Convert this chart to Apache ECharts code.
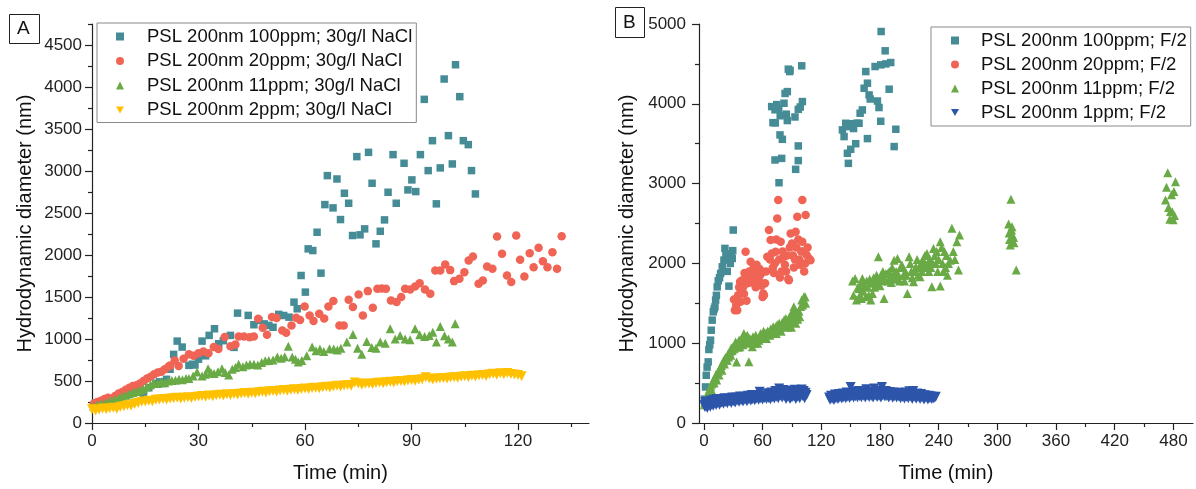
<!DOCTYPE html>
<html lang="en">
<head>
<meta charset="UTF-8">
<title>PSL 200nm - hydrodynamic diameter</title>
<script src="https://cdn.jsdelivr.net/npm/echarts@6.0.0/dist/echarts.min.js"></script>
<style>
    html, body { margin: 0; padding: 0; background: #fff; }
    #main { width: 1196px; height: 489px; }
</style>
</head>
<body>
<div id="main"></div>
<script type="text/javascript">
// ---- panel A : 30 g/l NaCl ----  [time (min), diameter (nm)]
var a100 = [[1,240],[3,255],[5,275],[7,300],[9,330],[11,360],[13,385],[14.5,350],[16,420],[18,470],[19,490],[20,470],[21,520],[22,640],
    [23,817],[24,975],[25.4,904],[27.3,686],[28.3,700],[29,690],[30,760],[31,975],[32,800],[33,1043],[34.5,1122],[35.7,944],[37,980],
    [39,1043],[40,900],[41,1308],[44,1281],[45.6,1170],[47,1220],[48.5,1180],[49.8,1162],[51,1140],[52.6,1293],[54,1280],[55.5,1260],
    [56.9,1439],[57.8,1360],[58.9,1756],[60.1,1558],[60.9,2073],[62.2,2053],[63.4,2271],[64.5,1784],[65.6,2600],[66.3,2945],[67.9,2561],
    [69,2905],[70,2422],[71.1,2735],[72.3,2616],[73.4,2232],[74.6,3171],[75.5,2240],[76.8,2311],[77.9,3222],[78.9,2854],[80,2133],
    [81.2,2283],[82.4,2418],[83.4,2747],[84.8,3195],[85.7,2616],[87.9,3092],[89,2775],[90.1,2894],[91.2,2755],[92.5,3195],[93.6,3853],
    [94.7,3005],[95.9,3361],[97,2609],[98.1,3037],[99.2,4095],[100.4,3421],[101.5,3084],[102.4,4265],[103.6,3885],[104.6,3361],
    [106,3314],[106.9,3005],[108,2727]];
var a20 = [[0.5,230],[1.5,250],[2.5,265],[3.5,285],[4.5,300],[5.5,290],[6.5,320],[7.5,350],[8.5,370],[9.5,395],[10.5,420],[11.5,440],
    [12.5,450],[13.5,470],[14.5,500],[15.5,530],[16.5,550],[17.5,580],[18.5,600],[19.5,610],[20.5,640],[21.5,670],[22,686],[23.3,745],
    [24.4,680],[25.8,765],[27.3,817],[28.6,800],[30,830],[31.4,850],[32.8,830],[34.3,904],[35.6,880],[37.4,1023],[39,913],[40.4,935],
    [41.3,1031],[42.8,1030],[44.4,1020],[45.6,1030],[46.8,1241],[48.1,1134],[49.3,1051],[50.7,1261],[52,1250],[53.6,1102],[54.7,1075],
    [56.2,1162],[57.5,1253],[58.6,1225],[59.9,1388],[61.3,1281],[62.4,1213],[64,1300],[65.4,1245],[66.6,1388],[68,1451],[69.7,1162],
    [70.9,1162],[72.3,1467],[73.5,1380],[75.1,1530],[76.3,1281],[77.7,1570],[79.1,1372],[80.4,1598],[81.6,1600],[82.8,1598],[84.2,1459],
    [85.8,1440],[87.1,1500],[88.2,1598],[89.6,1590],[91,1625],[92.3,1665],[93.8,1590],[95.3,1539],[96.7,1816],[98.1,1816],[99.5,1887],
    [100.9,1820],[102,1689],[103.5,1717],[104.9,1796],[106.1,1935],[107.3,1982],[108.9,1657],[110.1,1697],[111.3,1863],[112.8,1836],
    [114.1,2220],[115.5,2014],[116.9,1756],[118.1,1678],[119.5,2232],[120.6,1943],[121.8,1745],[123.3,2022],[124.4,1855],[125.8,2085],
    [127,1927],[128.3,1855],[129.7,2033],[131,1836],[132.3,2224]];
var a11 = [[0.5,200],[1.5,215],[2.5,225],[3.5,235],[4.5,250],[5.5,265],[6.5,280],[7.5,295],[8.5,315],[9.5,330],[10.5,345],[11.5,360],
    [12.5,375],[13.5,390],[14.5,405],[15.5,430],[16.5,455],[17.4,475],[18.5,470],[19.5,490],[20.5,480],[21.5,500],[22.5,505],[23.5,508],
    [24.5,520],[25.5,515],[26.5,530],[27.3,530],[28.5,560],[29.6,606],[31,560],[32,580],[32.7,646],[33.5,600],[34.4,590],[35.5,610],
    [36.6,646],[37.5,600],[38.5,570],[39.5,640],[40.4,660],[41.3,698],[42.5,670],[43.5,690],[44.5,700],[45.6,700],[46.7,690],[47.8,720],
    [48.8,740],[49.8,745],[51,750],[52.2,785],[53.3,770],[54.3,790],[55.3,915],[56.4,785],[57.3,760],[58.1,725],[59.1,745],[60.5,800],
    [62,904],[63.1,860],[64.2,880],[65.3,850],[66.9,885],[68.1,880],[69.1,870],[70.1,890],[71.8,963],[73.5,1055],[74.8,890],[76,817],
    [77.4,970],[78.8,900],[80,890],[81.2,963],[82.6,950],[84,1122],[85.4,1000],[86.8,1043],[88.2,1000],[89.6,990],[91,1122],[92.3,1050],
    [93.7,1030],[95,1043],[96,1080],[97,963],[98.1,1150],[99.3,1040],[100.4,1000],[101.5,963],[102.3,1182]];
var a2 = [[0,165],[1,150],[2,160],[3,172],[4,163],[5,176],[6,182],[7,170],[8,192],[9,198],[10,212],[11,204],[12,226],[13,238],[14,252],
    [15,256],[16,266],[17,259],[18,276],[19,281],[20,287],[21,279],[22,291],[23,296],[24,302],[25,293],[26,301],[27,307],[28,298],
    [29,311],[30,316],[31,322],[32,313],[33,326],[34,319],[35,331],[36,337],[37,328],[38,342],[39,334],[40,346],[41,339],[42,352],
    [43,356],[44,348],[45,361],[46,354],[47,367],[48,372],[49,363],[50,377],[51,382],[52,374],[53,386],[54,392],[55,383],[56,397],
    [57,401],[58,393],[59,406],[60,411],[61,404],[62,417],[63,421],[64,413],[65,427],[66,431],[67,424],[68,436],[69,442],[70,434],
    [71,447],[72,451],[73,444],[74,481],[75,470],[76,454],[77,466],[78,471],[79,463],[80,476],[81,482],[82,474],[83,486],[84,491],
    [85,483],[86,496],[87,501],[88,494],[89,506],[90,511],[91,503],[92,516],[93,521],[94,546],[95,531],[96,519],[97,526],[98,532],
    [99,536],[100,529],[101,541],[102,546],[103,538],[104,551],[105,556],[106,548],[107,562],[108,554],[109,566],[110,571],[111,559],
    [112,581],[113,586],[114,574],[115,592],[116,579],[117,596],[118,584],[119,578],[120,571],[121,558]];

// ---- panel B : F/2 medium ----
var b100 = [[0.5,300],[1.7,452],[2.4,598],[3.3,700],[4.4,766],[5.1,921],[6,980],[6.8,1038],[7.5,1163],[8.5,1289],[9.6,1393],[10.5,1430],
    [11.3,1456],[12,1540],[12.8,1600],[13.6,1706],[14.7,1782],[16,1820],[17.1,1874],[18.8,1957],[20.5,2041],[21.5,2188],[22.5,2100],
    [23.9,1900],[24.5,2060],[25.6,1715],[27,2000],[28,2120],[29,2062],[29.5,2160],[30,2418],
    [76.8,3011],[72.7,3296],[79.5,3316],[70.6,3764],[73,3760],[77.8,3610],[80.2,3555],[69.3,3965],[72.7,3925],[76.5,3940],[78,3850],
    [81.9,4007],[84.3,3870],[85.3,3790],[85.3,4153],[86.3,4434],[87.7,4404],[100,4476],[100.7,4028],[98.5,3960],[96.5,3930],[93.1,3835],
    [96.5,3472],[96.5,3288],[93.8,3179],[74.5,3990],[83,4130],[88,4420],
    [147.7,3254],[146.7,3380],[150.1,3430],[155.2,3500],[143.3,3589],[141.6,3673],[145,3756],[147.7,3714],[151.2,3750],[156.3,3757],
    [153,3690],[158.6,3756],[159.7,3882],[162,3923],[163.8,4195],[165.5,4404],[167.2,4258],[168.9,4111],[167.2,3564],[170,4060],
    [177.4,4035],[179,3953],[180.8,3781],[175,4467],[180.8,4488],[186,4500],[191,4517],[181.2,4906],[185.3,4664],[189.4,4183],
    [196.2,3681],[194.5,3464]];
var b20 = [[30.7,1548],[31.7,1414],[33,1480],[34.1,1414],[34.1,1540],[35,1600],[36,1700],[37,1769],[37.5,1520],[38.5,1650],[39.2,1790],
    [40,1700],[41,1620],[41.5,1880],[42.6,2146],[43.6,1533],[44.5,1750],[45.5,1830],[46.5,1900],[47.8,2020],[48.5,1760],[49.5,1870],
    [50.2,1858],[51,1950],[52,1800],[53,1700],[53.9,1983],[55,1880],[56.3,1790],[57,1930],[58,1860],[59,1720],[60,1580],[60.7,1623],
    [61.4,1602],[62.5,1750],[63.5,1900],[64.8,2083],[66.5,2418],[67.5,2050],[68.2,2293],[69.3,2124],[70.5,1950],[71.5,1880],[72.5,2000],
    [73.3,2146],[74,2300],[75,2564],[76,2794],[77,2050],[77.8,1823],[78.5,2270],[79.5,1900],[80.5,2150],[81.9,2083],[82.9,1984],
    [84,1900],[85,2100],[86.3,1803],[86.9,1790],[87.8,2200],[88.7,2376],[90,2250],[91,2100],[92,1950],[93,2050],[93.8,2397],[94.5,2200],
    [95.5,2585],[96.5,2300],[97.5,2050],[98.3,1983],[99.5,2150],[100.6,2794],[100.6,2270],[101.5,2150],[102.5,1900],[103.5,2000],
    [104,2606],[105.1,2104],[106,2200],[107.5,2062],[109,2040]];
var b11 = [[0.5,230],[1,260],[1.7,285],[2.5,310],[3,340],[4,370],[5,400],[5.5,380],[6,430],[7,460],[7.5,420],[8,490],[9,520],[10,540],
    [10.5,500],[11,560],[11.9,577],[12.5,610],[13,540],[14,620],[15,650],[15.5,600],[16,680],[17,700],[18,720],[18.5,660],[19,750],
    [20,780],[21,740],[22,820],[23,790],[23.9,787],[24.5,860],[25.3,828],[26,880],[27,900],[27.5,850],[28,940],[29,910],[30,960],
    [31,930],[32,980],[32.4,1016],[33.4,765],[34,1000],[35,950],[36,1040],[36.8,954],[38,1000],[39,1060],[40,980],[40.9,1122],[42,1010],
    [43,1080],[43.6,1038],[44.4,1100],[45,1000],[46,766],[47,1060],[48,1020],[49.5,954],[50.2,1080],[51,1040],[52,1000],[53,1100],
    [54,1060],[55,1000],[56.3,1038],[57.3,1079],[58,1120],[59,1060],[60,1100],[61,1150],[62,1080],[63,1120],[64,1060],[65,1150],
    [66.5,1142],[67.5,1100],[68.5,1180],[69.5,1130],[70.9,1205],[72,1160],[73.3,1205],[74,1120],[75,1230],[76,1180],[77,1250],[78,1200],
    [79,1150],[80,1260],[81,1220],[82,1290],[83.6,1310],[84.6,1289],[85.5,1200],[86.5,1250],[87.5,1330],[88.5,1270],[89.5,1200],
    [90.5,1350],[91.4,1414],[92,1456],[93,1300],[94,1250],[95,1380],[96,1300],[97.2,1400],[98,1330],[99,1460],[100,1540],[101,1480],
    [102.3,1581],[103.4,1582],[104,1500],
    [152,1780],[153,1600],[154.6,1812],[156,1540],[157.5,1700],[158.6,1687],[159.5,1600],[160.5,1750],[161,1560],[162,1812],[163,1650],
    [164,1720],[165.5,1582],[166.5,1780],[167.5,1700],[168.5,1600],[169.5,1800],[170.6,1540],[171.5,1750],[172.3,1624],[173.5,1820],
    [174.5,1700],[175.5,1780],[176.5,1850],[177.5,1750],[178.4,2083],[179,1800],[180,1720],[181,1850],[182,1780],[183,1900],[184.2,1560],
    [185,1800],[186,1870],[187.6,1875],[188.5,1780],[189.5,1900],[190.5,1820],[191.5,1760],[192.5,1950],[193.5,1850],[194.4,2041],
    [195.5,1800],[196.5,1900],[197.9,2062],[199,1850],[200,1780],[201,1950],[202.4,1979],[203,1957],[204,1850],[205,1780],[206,1900],
    [207,1850],[208,1623],[209.8,2083],[210.9,2000],[212,1900],[213,1820],[214.3,1769],[215.5,1900],[216.7,1957],[218,2050],[219,1850],
    [220,1950],[221,1832],[222,2000],[223,1900],[224,2050],[225,1950],[226,2100],[227,1980],[228,2125],[229,2000],[230,1900],[231,2050],
    [232,1950],[233,1706],[234,2000],[234.7,2188],[236,2100],[237,2000],[238,2150],[239,1900],[240,2050],[241.6,2271],[241.6,1716],
    [243,2200],[244,2000],[245,1900],[246,2150],[247,1950],[248,2100],[249,1850],[250,2000],[251.8,2041],[253.5,2439],[255,2150],
    [256.5,2050],[258.6,2271],[260.3,1916],[261.3,2355],
    [311.5,2493],[312,2380],[312.5,2300],[313.2,2230],[313.9,2803],[314.5,2420],[315,2460],[315.5,2350],[316.6,2326],[317,2260],[319.3,1916],
    [471.9,2794],[472.9,2953],[474.2,3137],[475,2700],[476.3,2552],[477,2650],[478,2860],[478.7,2648],[479.7,2548],[480.5,2900],
    [482.1,3024],[481,2600]];
var b1 = [[0.5,230],[1,200],[1.5,262],[2,214],[3,243],[3.5,188],[4,268],[5,226],[6,252],[6.5,204],[7,281],[8,233],[9,258],[9.5,217],
    [10,291],[11,246],[12,268],[12.5,224],[13,302],[14,251],[15,276],[16,229],[17,299],[18,257],[19,284],[20,242],[21,311],[22,263],
    [23,292],[24,249],[25,308],[26,272],[27,296],[28,252],[29,321],[30,274],[31,303],[32,258],[33,318],[34,282],[35,299],[36,266],
    [37,332],[38,284],[39,307],[40,268],[41,328],[42,292],[43,309],[44,272],[45,341],[46,294],[47,322],[48,281],[49,352],[50,298],
    [51,326],[52,284],[53,347],[54,306],[55,328],[56,291],[57,392],[58,309],[59,337],[60,296],[61,348],[62,312],[63,339],[64,301],
    [65,372],[66,314],[67,346],[68,299],[69,382],[70,322],[71,349],[72,306],[73,402],[74,328],[75,362],[76,311],[77,432],[78,341],
    [79,368],[80,318],[81,412],[82,336],[83,358],[84,302],[85,383],[86,329],[87,408],[88,301],[89,352],[90,318],[91,392],[92,331],
    [93,418],[94,302],[95,362],[96,329],[97,412],[98,309],[99,371],[100,421],[101,338],[102,402],[103,311],[104,379],[105,352],
    [128,318],[129,291],[130,342],[131,304],[132,331],[133,289],[134,356],[135,309],[136,341],[137,301],[138,362],[139,318],[140,346],
    [141,306],[142,371],[143,324],[144,352],[145,309],[146,381],[147,331],[148,354],[149,312],[150,452],[151,339],[152,372],[153,321],
    [154,392],[155,336],[156,358],[157,322],[158,401],[159,338],[160,366],[161,324],[162,382],[163,341],[164,358],[165,319],[166,422],
    [167,346],[168,368],[169,326],[170,391],[171,339],[172,366],[173,321],[174,431],[175,344],[176,381],[177,326],[178,402],[179,338],
    [180,371],[181,318],[182,451],[183,346],[184,378],[185,331],[186,401],[187,339],[188,366],[189,321],[190,388],[191,342],[192,358],
    [193,316],[194,381],[195,334],[196,362],[197,319],[198,379],[199,336],[200,361],[201,309],[202,372],[203,328],[204,356],[205,306],
    [206,381],[207,329],[208,362],[209,311],[210,398],[211,331],[212,349],[213,302],[214,401],[215,329],[216,356],[217,304],[218,369],
    [219,326],[220,351],[221,301],[222,362],[223,319],[224,341],[225,296],[226,349],[227,316],[228,336],[229,294],[230,341],[231,309],
    [232,331],[233,301],[234,329],[235,311],[236,321],[237,328]];

// tick values
var ticksAx = [0, 30, 60, 90, 120];
var minorAx = [15, 45, 75, 105, 135];
var ticksAy = [0, 500, 1000, 1500, 2000, 2500, 3000, 3500, 4000, 4500];
var minorAy = [250, 750, 1250, 1750, 2250, 2750, 3250, 3750, 4250, 4750];
var ticksBx = [0, 60, 120, 180, 240, 300, 360, 420, 480];
var minorBx = [30, 90, 150, 210, 270, 330, 390, 450];
var ticksBy = [0, 1000, 2000, 3000, 4000, 5000];
var minorBy = [500, 1500, 2500, 3500, 4500];

var namesA = ['PSL 200nm 100ppm; 30g/l NaCl', 'PSL 200nm 20ppm; 30g/l NaCl', 'PSL 200nm 11ppm; 30g/l NaCl', 'PSL 200nm 2ppm; 30g/l NaCl'];
var namesB = ['PSL 200nm 100ppm; F/2', 'PSL 200nm 20ppm; F/2', 'PSL 200nm 11ppm; F/2', 'PSL 200nm 1ppm; F/2'];

var TEAL = '#468c96', RED = '#f06455', GREEN = '#6aaa46', YELLOW = '#ffc000', BLUE = '#2d55aa';
var DOWN = 'path://M0,0L10,0L5,9Z';
var FONT = 'Liberation Sans, Arial, sans-serif';

var myChart = echarts.init(document.getElementById('main'));

function plain(v) { return String(v); }   // no thousands separator

function majorX(gi, min, max, vals, name) {
    return {
        gridIndex: gi, type: 'value', min: min, max: max, position: 'bottom',
        name: name, nameLocation: 'middle', nameGap: 40,
        nameTextStyle: { fontSize: 20, color: '#111', fontFamily: FONT },
        axisLine: { show: true, onZero: false, lineStyle: { color: '#222', width: 1.2 } },
        axisTick: { show: true, customValues: vals, length: 7, lineStyle: { color: '#222', width: 1.2 } },
        axisLabel: { customValues: vals, formatter: plain, margin: 10, fontSize: 17, color: '#222', fontFamily: FONT },
        splitLine: { show: false }
    };
}
function majorY(gi, min, max, vals, gap, margin) {
    return {
        gridIndex: gi, type: 'value', min: min, max: max, position: 'left',
        name: 'Hydrodynamic diameter (nm)', nameLocation: 'middle', nameGap: gap,
        nameTextStyle: { fontSize: 20, color: '#111', fontFamily: FONT },
        axisLine: { show: true, onZero: false, lineStyle: { color: '#222', width: 1.2 } },
        axisTick: { show: true, customValues: vals, length: 7, lineStyle: { color: '#222', width: 1.2 } },
        axisLabel: { customValues: vals, formatter: plain, margin: margin, fontSize: 17, color: '#222', fontFamily: FONT },
        splitLine: { show: false }
    };
}
function minorAxis(gi, min, max, vals, pos) {
    return {
        gridIndex: gi, type: 'value', min: min, max: max, position: pos,
        axisLine: { show: false, onZero: false },
        axisTick: { show: true, customValues: vals, length: 4, lineStyle: { color: '#222', width: 1.2 } },
        axisLabel: { show: false },
        splitLine: { show: false }
    };
}
function scatter(name, data, symbol, size, color, idx) {
    return {
        name: name, type: 'scatter', data: data, symbol: symbol, symbolSize: size,
        xAxisIndex: idx, yAxisIndex: idx,
        itemStyle: { color: color, opacity: 1 }
    };
}
function legendFor(names, left, top, pad, gap, fs, textPad) {
    return {
        data: names, orient: 'vertical', left: left, top: top,
        padding: pad, itemGap: gap, itemWidth: 8, itemHeight: 8,
        borderColor: '#8a8a8a', borderWidth: 1,
        textStyle: { fontSize: fs, lineHeight: 18, color: '#111', fontFamily: FONT, padding: [0, 0, 0, textPad] }
    };
}

var option = {
    animation: false,
    backgroundColor: '#fff',
    grid: [
        { left: 92, top: 24, width: 497, height: 399 },
        { left: 699, top: 24, width: 494, height: 399 }
    ],
    xAxis: [
        majorX(0, 0, 140, ticksAx, 'Time (min)'),
        majorX(1, -5, 500, ticksBx, 'Time (min)'),
        minorAxis(0, 0, 140, minorAx, 'bottom'),
        minorAxis(1, -5, 500, minorBx, 'bottom')
    ],
    yAxis: [
        majorY(0, 0, 4750, ticksAy, 57, 10),
        majorY(1, 0, 5000, ticksBy, 62, 13),
        minorAxis(0, 0, 4750, minorAy, 'left'),
        minorAxis(1, 0, 5000, minorBy, 'left')
    ],
    legend: [
        legendFor(namesA, 97, 23, [4, 4, 3, 19], 5.5, 18.5, 18),
        legendFor(namesB, 931, 27, [4, 4, 4, 20], 5, 18.5, 17)
    ],
    graphic: [
        { type: 'rect', left: 9, top: 14, shape: { width: 30, height: 29 }, style: { fill: '#fff', stroke: '#222', lineWidth: 1 } },
        { type: 'text', left: 17, top: 19, style: { text: 'A', fontSize: 19, fill: '#111', fontFamily: FONT } },
        { type: 'rect', left: 615, top: 7, shape: { width: 29, height: 30 }, style: { fill: '#fff', stroke: '#222', lineWidth: 1 } },
        { type: 'text', left: 623, top: 13, style: { text: 'B', fontSize: 19, fill: '#111', fontFamily: FONT } }
    ],
    series: [
        scatter(namesA[0], a100, 'rect', 7.5, TEAL, 0),
        scatter(namesA[1], a20, 'circle', 8.5, RED, 0),
        scatter(namesA[2], a11, 'triangle', 9, GREEN, 0),
        scatter(namesA[3], a2, DOWN, 10, YELLOW, 0),
        scatter(namesB[0], b100, 'rect', 7.5, TEAL, 1),
        scatter(namesB[1], b20, 'circle', 8.5, RED, 1),
        scatter(namesB[2], b11, 'triangle', 9, GREEN, 1),
        scatter(namesB[3], b1, DOWN, 10, BLUE, 1)
    ]
};
myChart.setOption(option);
</script>
</body>
</html>
